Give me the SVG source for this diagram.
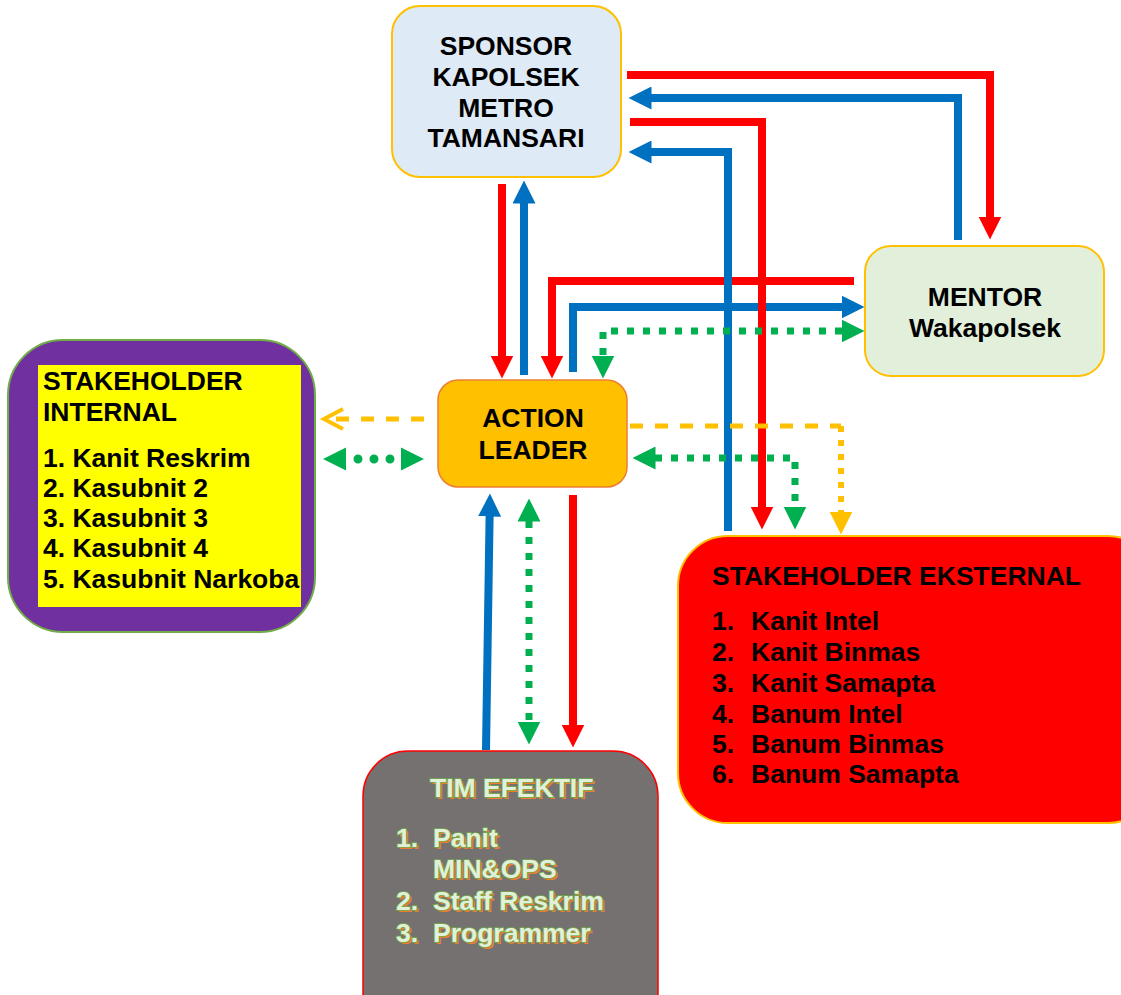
<svg xmlns="http://www.w3.org/2000/svg" width="1121" height="995" viewBox="0 0 1121 995">
<style>
.t{font-family:"Liberation Sans",Arial,sans-serif;font-weight:bold;font-size:26.5px;fill:#000}
.c{text-anchor:middle}
.tim{fill:#E2EFDA;stroke:#70AD47;stroke-width:1.6;paint-order:stroke}
.sh{fill:#ED7D31}
.red{stroke:#FF0000;stroke-width:8;fill:none}
.blue{stroke:#0070C0;stroke-width:8;fill:none}
.gdot{stroke:#00B050;stroke-width:7;stroke-dasharray:7 9;fill:none}
.ydash{stroke:#FFC000;stroke-width:5;stroke-dasharray:13 12;fill:none}
.ydot{stroke:#FFC000;stroke-width:6;stroke-dasharray:6 8;fill:none}
</style>
<defs>
<marker id="hr" markerUnits="userSpaceOnUse" viewBox="0 0 23 23" markerWidth="23" markerHeight="23" refX="0.5" refY="11.5" orient="auto"><path d="M0,0L23,11.5L0,23z" fill="#FF0000"/></marker>
<marker id="hb" markerUnits="userSpaceOnUse" viewBox="0 0 23 23" markerWidth="23" markerHeight="23" refX="0.5" refY="11.5" orient="auto"><path d="M0,0L23,11.5L0,23z" fill="#0070C0"/></marker>
<marker id="hg" markerUnits="userSpaceOnUse" viewBox="0 0 23 23" markerWidth="23" markerHeight="23" refX="0.5" refY="11.5" orient="auto-start-reverse"><path d="M0,0L23,11.5L0,23z" fill="#00B050"/></marker>
<marker id="hy" markerUnits="userSpaceOnUse" viewBox="0 0 23 23" markerWidth="23" markerHeight="23" refX="0.5" refY="11.5" orient="auto"><path d="M0,0L23,11.5L0,23z" fill="#FFC000"/></marker>
</defs>
<rect width="1121" height="995" fill="#fff"/>

<g id="sponsor">
<rect x="392" y="6" width="229" height="171" rx="28" fill="#DEEAF6" stroke="#FFC000" stroke-width="2"/>
<text class="t c" x="506" y="55">SPONSOR</text>
<text class="t c" x="506" y="86">KAPOLSEK</text>
<text class="t c" x="506" y="117">METRO</text>
<text class="t c" x="506" y="147">TAMANSARI</text>
</g>

<g id="mentor">
<rect x="865" y="246" width="239" height="130" rx="26" fill="#E2EFDA" stroke="#FFC000" stroke-width="2"/>
<text class="t c" x="985" y="306">MENTOR</text>
<text class="t c" x="985" y="337">Wakapolsek</text>
</g>

<g id="action-leader">
<rect x="438" y="380" width="189" height="107" rx="20" fill="#FFC000" stroke="#ED7D31" stroke-width="1.5"/>
<text class="t c" x="533" y="427">ACTION</text>
<text class="t c" x="533" y="459">LEADER</text>
</g>

<g id="stakeholder-internal">
<rect x="8" y="340" width="307" height="292" rx="55" fill="#7030A0" stroke="#70AD47" stroke-width="2"/>
<rect x="38" y="365" width="263" height="242" fill="#FFFF00"/>
<text class="t" x="43" y="390">STAKEHOLDER</text>
<text class="t" x="43" y="421">INTERNAL</text>
<text class="t" x="43" y="467">1. Kanit Reskrim</text>
<text class="t" x="43" y="497">2. Kasubnit 2</text>
<text class="t" x="43" y="527">3. Kasubnit 3</text>
<text class="t" x="43" y="557">4. Kasubnit 4</text>
<text class="t" x="43" y="588">5. Kasubnit Narkoba</text>
</g>

<g id="stakeholder-eksternal">
<rect x="678" y="536" width="480" height="287" rx="50" fill="#FF0000" stroke="#FFC000" stroke-width="2"/>
<text class="t" x="712" y="585">STAKEHOLDER EKSTERNAL</text>
<text class="t" x="712" y="630">1.</text><text class="t" x="751" y="630">Kanit Intel</text>
<text class="t" x="712" y="661">2.</text><text class="t" x="751" y="661">Kanit Binmas</text>
<text class="t" x="712" y="692">3.</text><text class="t" x="751" y="692">Kanit Samapta</text>
<text class="t" x="712" y="723">4.</text><text class="t" x="751" y="723">Banum Intel</text>
<text class="t" x="712" y="753">5.</text><text class="t" x="751" y="753">Banum Binmas</text>
<text class="t" x="712" y="783">6.</text><text class="t" x="751" y="783">Banum Samapta</text>
</g>

<g id="tim-efektif">
<rect x="363" y="751" width="295" height="290" rx="45" fill="#767171" stroke="#FF0000" stroke-width="1.5"/>
<g class="t sh" transform="translate(2,2)">
<text x="430" y="797">TIM EFEKTIF</text>
<text x="396" y="847">1.</text><text x="433" y="847">Panit</text>
<text x="433" y="878">MIN&amp;OPS</text>
<text x="396" y="910">2.</text><text x="433" y="910">Staff Reskrim</text>
<text x="396" y="942">3.</text><text x="433" y="942">Programmer</text>
</g>
<g class="t tim">
<text x="430" y="797">TIM EFEKTIF</text>
<text x="396" y="847">1.</text><text x="433" y="847">Panit</text>
<text x="433" y="878">MIN&amp;OPS</text>
<text x="396" y="910">2.</text><text x="433" y="910">Staff Reskrim</text>
<text x="396" y="942">3.</text><text x="433" y="942">Programmer</text>
</g>
</g>

<g id="connectors">
<path class="red" d="M627,75H990V217" marker-end="url(#hr)"/>
<path class="blue" d="M958,240V98H651" marker-end="url(#hb)"/>
<path class="red" d="M854,281H552V356" marker-end="url(#hr)"/>
<path class="blue" d="M573,372V307H842" marker-end="url(#hb)"/>
<path class="blue" d="M728,531V152H651" marker-end="url(#hb)"/>
<path class="red" d="M630,122H762V507" marker-end="url(#hr)"/>
<path class="red" d="M502,184V356" marker-end="url(#hr)"/>
<path class="blue" d="M524,375V203" marker-end="url(#hb)"/>
<path class="ydash" d="M424,419H330"/>
<path d="M343,409L324,419L343,429" fill="none" stroke="#FFC000" stroke-width="4"/>
<path class="ydash" d="M630,426H841"/>
<path class="ydot" d="M841,426V512" marker-end="url(#hy)"/>
<path class="gdot" d="M842,331H603V356" marker-start="url(#hg)" marker-end="url(#hg)"/>
<path class="gdot" d="M655,458H795V507" marker-start="url(#hg)" marker-end="url(#hg)"/>
<path d="M346,459H401" fill="none" stroke="#00B050" stroke-width="9" stroke-linecap="round" stroke-dasharray="0 16" stroke-dashoffset="4"/>
<path d="M323,459L346,447.5L346,470.5z" fill="#00B050"/>
<path d="M424,459L401,447.5L401,470.5z" fill="#00B050"/>
<path class="blue" d="M486,750L489.6,516" marker-end="url(#hb)"/>
<path class="gdot" d="M529,521V722" marker-start="url(#hg)" marker-end="url(#hg)"/>
<path class="red" d="M573,495V725" marker-end="url(#hr)"/>
</g>
</svg>
